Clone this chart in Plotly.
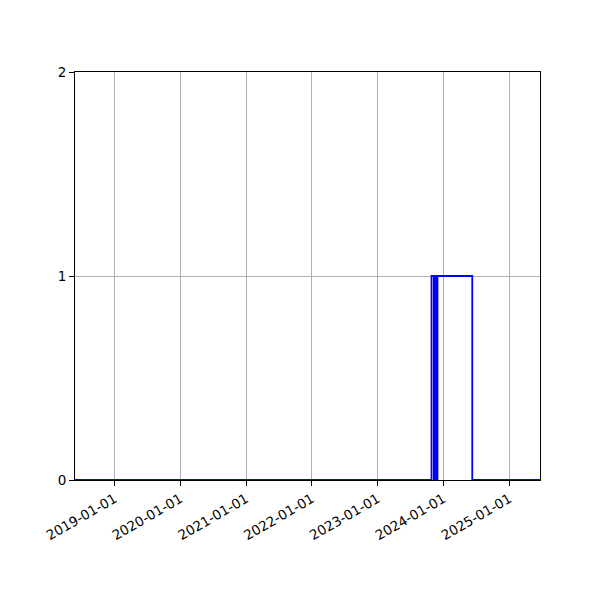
import plotly.graph_objects as go

# step signal: value holds from each date until the next one
dates = ['2018-05-27', '2023-10-27', '2023-11-09', '2023-11-10', '2023-11-18',
         '2023-11-20', '2023-11-27', '2023-11-29', '2024-06-09', '2025-06-20']
values = [0, 1, 0, 1, 0, 1, 0, 1, 0, 0]

tick_dates = ['2019-01-01', '2020-01-01', '2021-01-01', '2022-01-01',
              '2023-01-01', '2024-01-01', '2025-01-01']
y_ticks = [0, 1, 2]

fig = go.Figure()
fig.add_trace(go.Scatter(
    x=dates, y=values, mode='lines', line_shape='hv',
    line=dict(color='blue', width=1.8), showlegend=False
))

fig.update_layout(
    width=600, height=600,
    margin=dict(l=67, r=68, t=64, b=128),
    paper_bgcolor='white', plot_bgcolor='white',
    font=dict(family='DejaVu Sans', size=13.5, color='black'),
)
fig.update_xaxes(
    range=['2018-05-27', '2025-06-20'],
    tickvals=tick_dates, ticktext=tick_dates, tickangle=-30,
    showgrid=True, gridcolor='#b0b0b0', gridwidth=1,
    showline=True, linecolor='black', linewidth=1, mirror=True,
    ticks='outside', ticklen=5, tickcolor='black', zeroline=False,
)
fig.update_yaxes(
    range=[0, 2], tickvals=y_ticks,
    showgrid=True, gridcolor='#b0b0b0', gridwidth=1,
    showline=True, linecolor='black', linewidth=1, mirror=True,
    ticks='outside', ticklen=5, tickcolor='black', zeroline=False,
)

fig.write_html('out.html')
